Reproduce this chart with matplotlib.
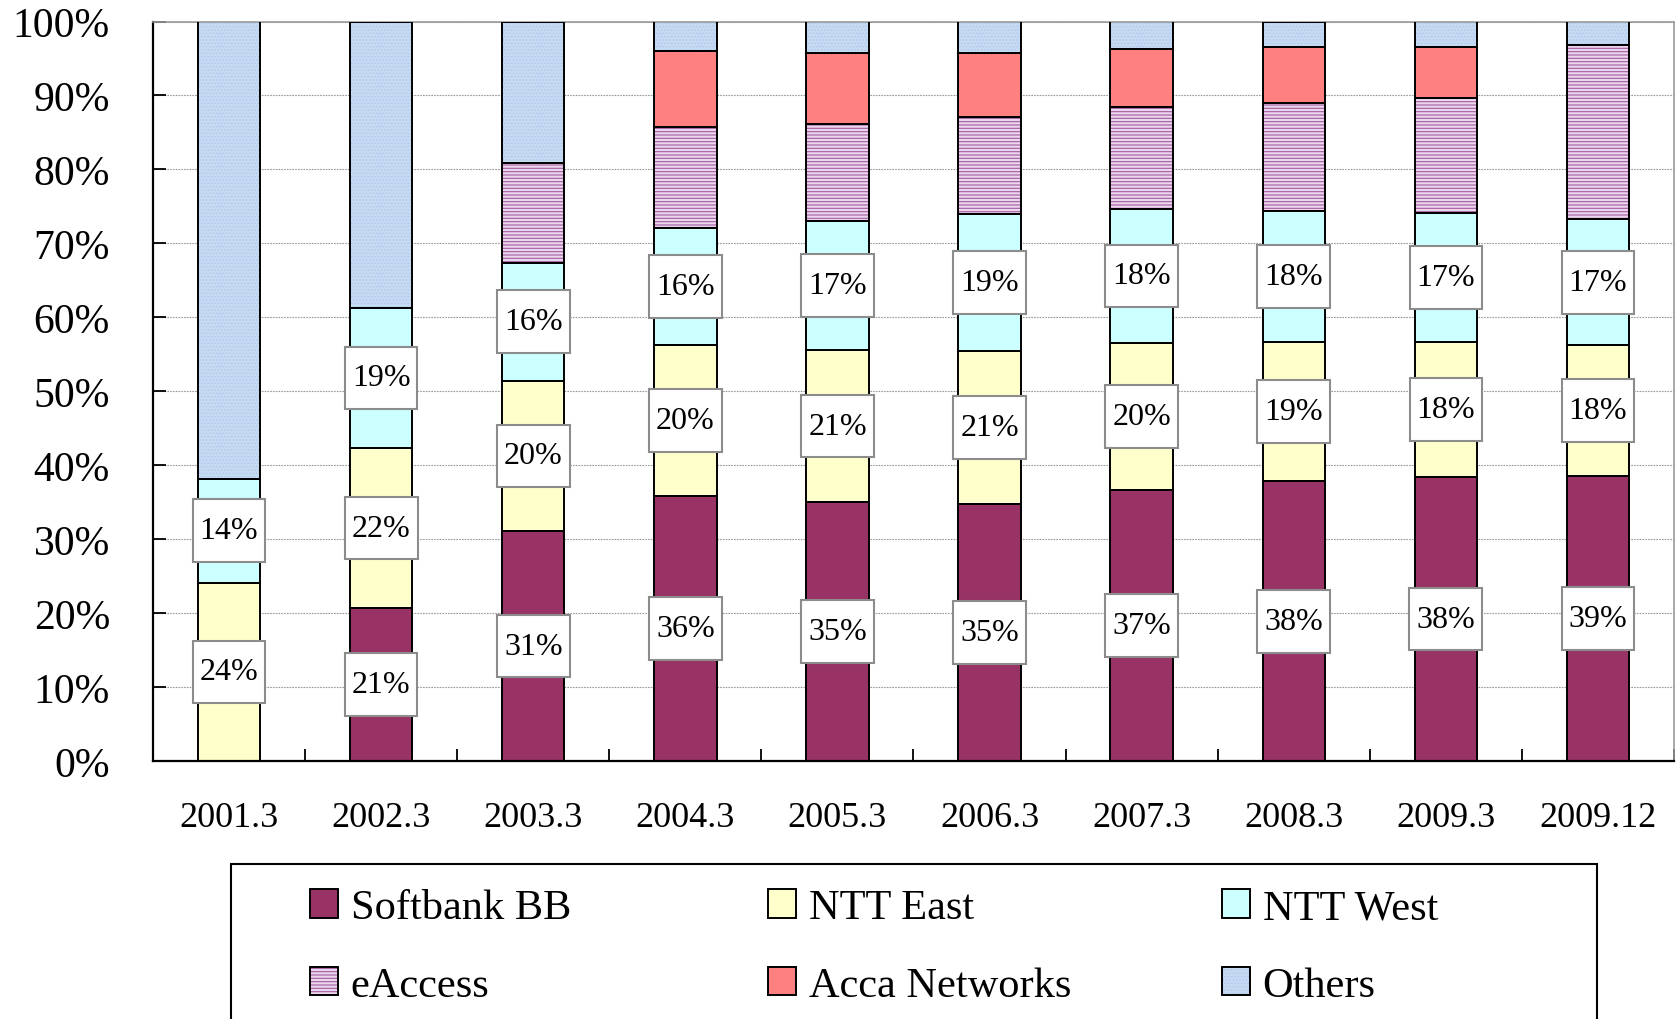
import numpy as np
import matplotlib.pyplot as plt
from matplotlib.patches import Patch, Rectangle

plt.rcParams['font.family'] = ['Liberation Serif', 'DejaVu Serif']
plt.rcParams['hatch.linewidth'] = 0.8

# share of DSL lines (%)
periods = ["2001.3", "2002.3", "2003.3", "2004.3", "2005.3",
           "2006.3", "2007.3", "2008.3", "2009.3", "2009.12"]
softbank = [0, 20.7, 31.1, 35.9, 35.0, 34.7, 36.7, 37.8, 38.4, 38.6]
ntt_east = [24.1, 21.6, 20.3, 20.3, 20.6, 20.7, 19.8, 18.9, 18.3, 17.6]
ntt_west = [14.1, 19.0, 16.0, 15.9, 17.4, 18.6, 18.2, 17.7, 17.4, 17.1]
eaccess = [0, 0, 13.5, 13.6, 13.2, 13.1, 13.7, 14.6, 15.5, 23.5]
acca = [0, 0, 0, 10.3, 9.6, 8.7, 7.9, 7.6, 7.0, 0]
others = [61.8, 38.7, 19.1, 4.0, 4.2, 4.2, 3.7, 3.4, 3.4, 3.2]

names = ["Softbank BB", "NTT East", "NTT West", "eAccess", "Acca Networks", "Others"]
series = [softbank, ntt_east, ntt_west, eaccess, acca, others]
fills = ["#993366", "#FFFFCC", "#CCFFFF", "#EDD5ED", "#FF8080", "#C6DBF3"]
hatches = [None, None, None, "-----", None, "....."]
hatch_cols = [None, None, None, "#A060A0", None, "#B2CBEC"]
labelled = [0, 1, 2]  # series that carry value boxes

W, H = 1681, 1020
fig = plt.figure(figsize=(W / 100, H / 100), dpi=100)
ax = fig.add_axes([153 / W, 1 - 762 / H, (1674 - 153) / W, (762 - 22.5) / H])

x = np.arange(len(periods))
width = 0.41
bottom = np.zeros(len(periods))
for i, vals in enumerate(series):
    vals = np.array(vals)
    ec = hatch_cols[i] if hatches[i] else fills[i]
    ax.bar(x, vals, width, bottom=bottom, color=fills[i], hatch=hatches[i],
           edgecolor=ec, linewidth=0, zorder=2)
    ax.bar(x, vals, width, bottom=bottom, fill=False, edgecolor="black",
           linewidth=1.4, zorder=3)
    if i in labelled:
        for xi, v, b in zip(x, vals, bottom):
            if v > 0:
                ax.text(xi, b + v / 2, f"{v:.0f}%", ha="center", va="center",
                        fontsize=23, zorder=5,
                        bbox=dict(boxstyle="square,pad=0.22", fc="white",
                                  ec="#8c8c8c", lw=1.5, mutation_aspect=2.4))
    bottom += vals

ax.set_xlim(-0.5, len(periods) - 0.5)
ax.set_ylim(0, 100)
ax.set_yticks(np.arange(0, 101, 10))
ax.set_yticklabels([f"{t}%" for t in range(0, 101, 10)])
ax.set_xticks(x)
ax.set_xticklabels(periods)
ax.set_xticks(np.arange(0.5, len(periods), 1), minor=True)

ax.yaxis.grid(True, color="#999999", linestyle=(0, (1.5, 1)), linewidth=0.8)
ax.set_axisbelow(True)
ax.tick_params(axis="y", direction="in", length=9, width=1.3, pad=31, labelsize=30)
ax.tick_params(axis="x", which="major", length=0, pad=29, labelsize=26)
ax.tick_params(axis="x", which="minor", direction="in", length=9, width=1.3)
for s in ["left", "bottom"]:
    ax.spines[s].set_linewidth(1.6)
for s in ["top", "right"]:
    ax.spines[s].set_color("#999999")
    ax.spines[s].set_linewidth(1.2)

# legend: three columns placed separately, one frame around them
def handle(i):
    ec = hatch_cols[i] if hatches[i] else fills[i]
    return (Patch(facecolor=fills[i], hatch=hatches[i], edgecolor=ec, linewidth=0),
            Patch(fill=False, edgecolor="black", linewidth=1.4))

col_x = [310, 768, 1222]
for c in range(3):
    idx = [c, c + 3]
    fig.legend([handle(i) for i in idx], [names[i] for i in idx],
               loc="upper left", bbox_to_anchor=(col_x[c] / W, 1 - 890 / H),
               frameon=False, fontsize=30.5, handlelength=0.66, handleheight=0.66,
               handletextpad=0.3, labelspacing=0.92, borderpad=0, borderaxespad=0)

fig.add_artist(Rectangle((231 / W, -0.1), (1597 - 231) / W, (H - 865) / H + 0.1,
                         transform=fig.transFigure, fill=False,
                         edgecolor="black", linewidth=1.5))

fig.savefig("out.png", dpi=100)
